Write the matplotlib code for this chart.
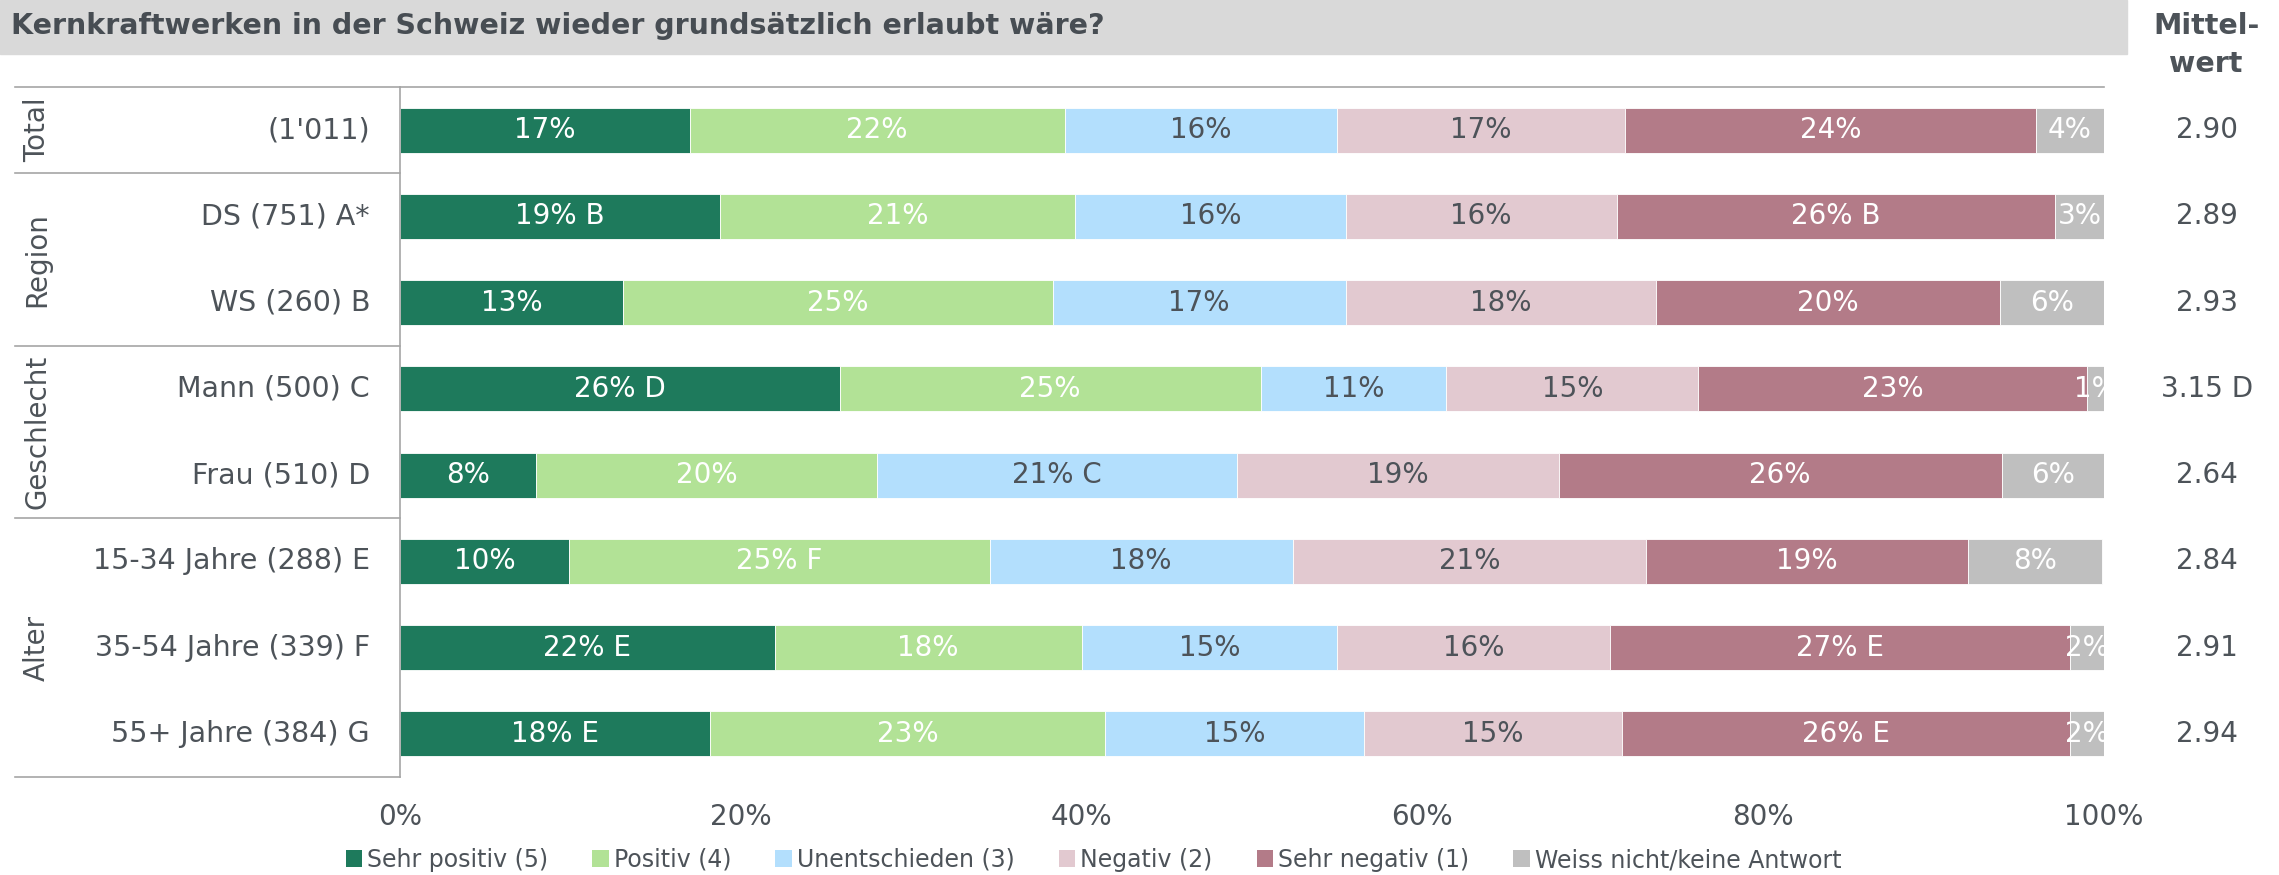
import matplotlib.pyplot as plt
import matplotlib.transforms as mtransforms
from matplotlib.patches import Rectangle, Patch

# data (share in %)
rows = ["(1'011)", "DS (751) A*", "WS (260) B", "Mann (500) C", "Frau (510) D",
        "15-34 Jahre (288) E", "35-54 Jahre (339) F", "55+ Jahre (384) G"]
groups = ["Total", "Region", "Geschlecht", "Alter"]
group_sizes = [1, 2, 2, 3]

sehr_positiv = [17.0, 18.8, 13.1, 25.8, 8.0, 9.9, 22.0, 18.2]
positiv = [22.0, 20.8, 25.2, 24.7, 20.0, 24.7, 18.0, 23.2]
unentschieden = [16.0, 15.9, 17.2, 10.9, 21.1, 17.8, 15.0, 15.2]
negativ = [16.9, 15.9, 18.2, 14.8, 18.9, 20.7, 16.0, 15.1]
sehr_negativ = [24.1, 25.7, 20.2, 22.8, 26.0, 18.9, 27.0, 26.3]
weiss_nicht = [4.0, 3.0, 6.1, 1.0, 6.0, 7.9, 2.0, 2.0]

# significance letters shown next to the percentages
sig_sehr_positiv = ["", "B", "", "D", "", "", "E", "E"]
sig_positiv = ["", "", "", "", "", "F", "", ""]
sig_unentschieden = ["", "", "", "", "C", "", "", ""]
sig_negativ = ["", "", "", "", "", "", "", ""]
sig_sehr_negativ = ["", "B", "", "", "", "", "E", "E"]
sig_weiss_nicht = ["", "", "", "", "", "", "", ""]

mittelwert = ["2.90", "2.89", "2.93", "3.15 D", "2.64", "2.84", "2.91", "2.94"]

labels = ["Sehr positiv (5)", "Positiv (4)", "Unentschieden (3)", "Negativ (2)",
          "Sehr negativ (1)", "Weiss nicht/keine Antwort"]
colors = ["#1e7a5c", "#b2e296", "#b3dffd", "#e2c9d0", "#b37b88", "#bfbfbf"]
text_colors = ["white", "white", "#4d5359", "#4d5359", "white", "white"]

series = [sehr_positiv, positiv, unentschieden, negativ, sehr_negativ, weiss_nicht]
sigs = [sig_sehr_positiv, sig_positiv, sig_unentschieden, sig_negativ,
        sig_sehr_negativ, sig_weiss_nicht]

dark = "#4d5359"
linec = "#a6a6a6"
plt.rcParams['font.family'] = ['DejaVu Sans']

fig = plt.figure(figsize=(22.79, 8.75), dpi=100)
ax = fig.add_axes([400 / 2279, 1 - 777 / 875, 1704 / 2279, 690 / 875])

y = list(range(len(rows)))
left = [0.0] * len(rows)
for vals, sg, col, tc in zip(series, sigs, colors, text_colors):
    ax.barh(y, vals, left=left, height=0.52, color=col, edgecolor="white", linewidth=0.6)
    for i, v in enumerate(vals):
        txt = f"{v:.0f}%" + (f" {sg[i]}" if sg[i] else "")
        ax.text(left[i] + v / 2, i, txt, ha="center", va="center", fontsize=20,
                color=tc, clip_on=True)
    left = [l + v for l, v in zip(left, vals)]

ax.set_xlim(0, 100)
ax.set_ylim(len(rows) - 0.5, -0.5)
ax.set_xticks([0, 20, 40, 60, 80, 100])
ax.set_xticklabels([f"{t}%" for t in [0, 20, 40, 60, 80, 100]])
ax.tick_params(axis="x", length=0, pad=19, labelsize=20, labelcolor=dark)
ax.set_yticks([])
for s in ["right", "bottom"]:
    ax.spines[s].set_visible(False)
ax.spines["left"].set_color(linec)
ax.spines["top"].set_color(linec)
ax.spines["left"].set_linewidth(1.2)
ax.spines["top"].set_linewidth(1.2)

# left label column
tr = mtransforms.blended_transform_factory(ax.transAxes, ax.transData)
for i, r in enumerate(rows):
    ax.text(-0.0176, i, r, transform=tr, ha="right", va="center", fontsize=20.5, color=dark)

start = -0.5
bounds = [start]
for g, n in zip(groups, group_sizes):
    mid = start + n / 2
    ax.text(-0.213, mid, g, transform=tr, rotation=90, ha="center", va="center",
            fontsize=20, color=dark)
    start += n
    bounds.append(start)
for b in bounds:
    ax.plot([-0.226, 0], [b, b], transform=tr, color=linec, lw=1.2, clip_on=False)

# mean column
for i, m in enumerate(mittelwert):
    ax.text(1.0604, i, m, transform=tr, ha="center", va="center", fontsize=20, color=dark)
fig.text(2206 / 2279, 1 - 45 / 875, "Mittel-\nwert", ha="center", va="center",
         fontsize=20.5, fontweight="bold", color=dark, linespacing=1.47)

# title bar
fig.patches.append(Rectangle((0, 1 - 54 / 875), 2127 / 2279, 54 / 875,
                             transform=fig.transFigure, color="#d9d9d9", zorder=0))
fig.text(11 / 2279, 1 - 26 / 875, "Kernkraftwerken in der Schweiz wieder grundsätzlich erlaubt wäre?",
         ha="left", va="center", fontsize=20.5, fontweight="bold", color="#474d53")

handles = [Patch(facecolor=c, edgecolor="none") for c in colors]
fig.legend(handles, labels, loc="center", bbox_to_anchor=(0.4798, 1 - 860 / 875), ncol=6,
           frameon=False, fontsize=17, handlelength=0.7, handleheight=0.7,
           handletextpad=0.2, columnspacing=1.88, labelcolor=dark)

fig.savefig("out.png", dpi=100)
